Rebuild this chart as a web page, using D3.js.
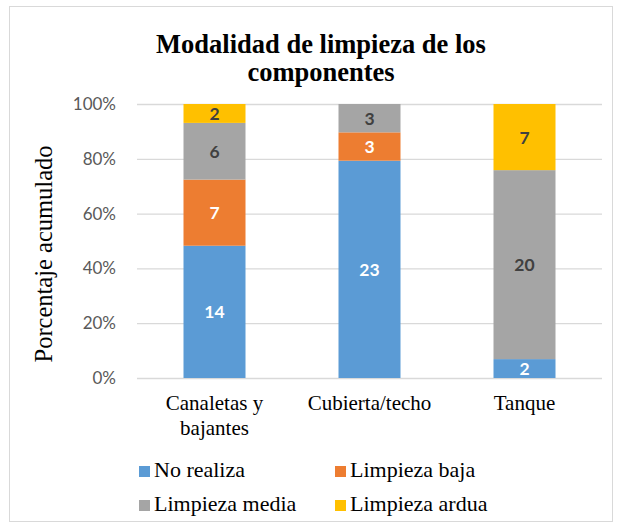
<!doctype html>
<html>
<head>
<meta charset="utf-8">
<title>Modalidad de limpieza</title>
<script src="https://d3js.org/d3.v7.min.js"></script>
<style>
  body { margin: 0; background: #fff; }
</style>
</head>
<body>
<svg id="chart" width="619" height="529"></svg>
<script>
// data
const categories = [["Canaletas y", "bajantes"], ["Cubierta/techo"], ["Tanque"]];
const seriesNames = ["No realiza", "Limpieza baja", "Limpieza media", "Limpieza ardua"];
const seriesColors = ["#5B9BD5", "#ED7D31", "#A5A5A5", "#FFC000"];
const labelColors = ["#ffffff", "#ffffff", "#404040", "#404040"];
const noRealiza = [14, 23, 2];
const limpiezaBaja = [7, 3, 0];
const limpiezaMedia = [6, 3, 20];
const limpiezaArdua = [2, 0, 7];
const yTicks = [0, 0.2, 0.4, 0.6, 0.8, 1];

const values = [noRealiza, limpiezaBaja, limpiezaMedia, limpiezaArdua];
const SERIF = "Liberation Serif";
const SANS = "Lato";

let svg = d3.select("#chart");

// chart border
svg.append("rect")
  .attr("x", 9.5).attr("y", 6.5)
  .attr("width", 603).attr("height", 515)
  .attr("fill", "white")
  .attr("stroke", "#D9D9D9");

let x = d3.scaleBand()
  .domain(d3.range(categories.length))
  .range([137, 602])
  .paddingInner(0.6)
  .paddingOuter(0.3);

let y = d3.scaleLinear().domain([0, 1]).range([378, 104]);

// title
svg.append("text")
  .attr("font-family", SERIF)
  .attr("font-weight", "bold")
  .attr("font-size", 26.5)
  .attr("text-anchor", "middle")
  .selectAll("tspan")
  .data(["Modalidad de limpieza de los", "componentes"])
  .join("tspan")
  .attr("x", 321)
  .attr("y", (d, i) => 53 + i * 28)
  .text(d => d);

// gridlines
svg.append("g")
  .selectAll("line")
  .data(yTicks)
  .join("line")
  .attr("x1", 137).attr("x2", 602)
  .attr("y1", d => y(d) + 0.5).attr("y2", d => y(d) + 0.5)
  .attr("stroke", "#D9D9D9")
  .attr("stroke-width", 1.3);

// y tick labels
svg.append("g")
  .selectAll("text")
  .data(yTicks)
  .join("text")
  .attr("font-family", SANS)
  .attr("font-size", 17)
  .attr("x", 116)
  .attr("y", d => y(d) + 6)
  .attr("text-anchor", "end")
  .attr("fill", "#595959")
  .text(d => d3.format(".0%")(d));

// y axis title
svg.append("text")
  .attr("font-family", SERIF)
  .attr("font-size", 24.5)
  .attr("transform", "translate(52,254) rotate(-90)")
  .attr("text-anchor", "middle")
  .attr("fill", "#000")
  .text("Porcentaje acumulado");

// stack the data as percentages
let rows = categories.map((c, i) => {
  let total = d3.sum(values, s => s[i]);
  let r = { idx: i, total: total };
  seriesNames.forEach((n, k) => r[n] = values[k][i] / total);
  r.raw = values.map(s => s[i]);
  return r;
});
let stacked = d3.stack().keys(seriesNames)(rows);

let layers = svg.append("g")
  .selectAll("g")
  .data(stacked)
  .join("g")
  .attr("fill", (d, k) => seriesColors[k]);

layers.selectAll("rect")
  .data(d => d)
  .join("rect")
  .attr("x", d => x(d.data.idx))
  .attr("width", x.bandwidth())
  .attr("y", d => y(d[1]))
  .attr("height", d => y(d[0]) - y(d[1]));

// data labels
stacked.forEach((layer, k) => {
  svg.append("g")
    .selectAll("text")
    .data(layer.filter(d => d.data.raw[k] > 0))
    .join("text")
    .attr("font-family", SANS)
    .attr("font-weight", 700)
    .attr("font-size", 17.5)
    .attr("x", d => x(d.data.idx) + x.bandwidth() / 2)
    .attr("y", d => (y(d[0]) + y(d[1])) / 2 + 6.5)
    .attr("text-anchor", "middle")
    .attr("fill", labelColors[k])
    .text(d => d.data.raw[k]);
});

// category labels
let cat = svg.append("g")
  .selectAll("text")
  .data(categories)
  .join("text")
  .attr("font-family", SERIF)
  .attr("font-size", 21)
  .attr("text-anchor", "middle")
  .attr("fill", "#000");
cat.selectAll("tspan")
  .data((d, i) => d.map(t => ({ t: t, i: i })))
  .join("tspan")
  .attr("x", d => x(d.i) + x.bandwidth() / 2)
  .attr("y", (d, j) => 410 + j * 25)
  .text(d => d.t);

// legend
let legendPos = [[139, 477], [335, 477], [139, 511], [335, 511]];
let legend = svg.append("g")
  .selectAll("g")
  .data(seriesNames)
  .join("g")
  .attr("transform", (d, k) => `translate(${legendPos[k][0]},${legendPos[k][1]})`);
legend.append("rect")
  .attr("x", 0).attr("y", -11)
  .attr("width", 11).attr("height", 11)
  .attr("fill", (d, k) => seriesColors[k]);
legend.append("text")
  .attr("font-family", SERIF)
  .attr("font-size", 22)
  .attr("x", 15).attr("y", 0)
  .attr("fill", "#000")
  .text(d => d);
</script>
</body>
</html>
